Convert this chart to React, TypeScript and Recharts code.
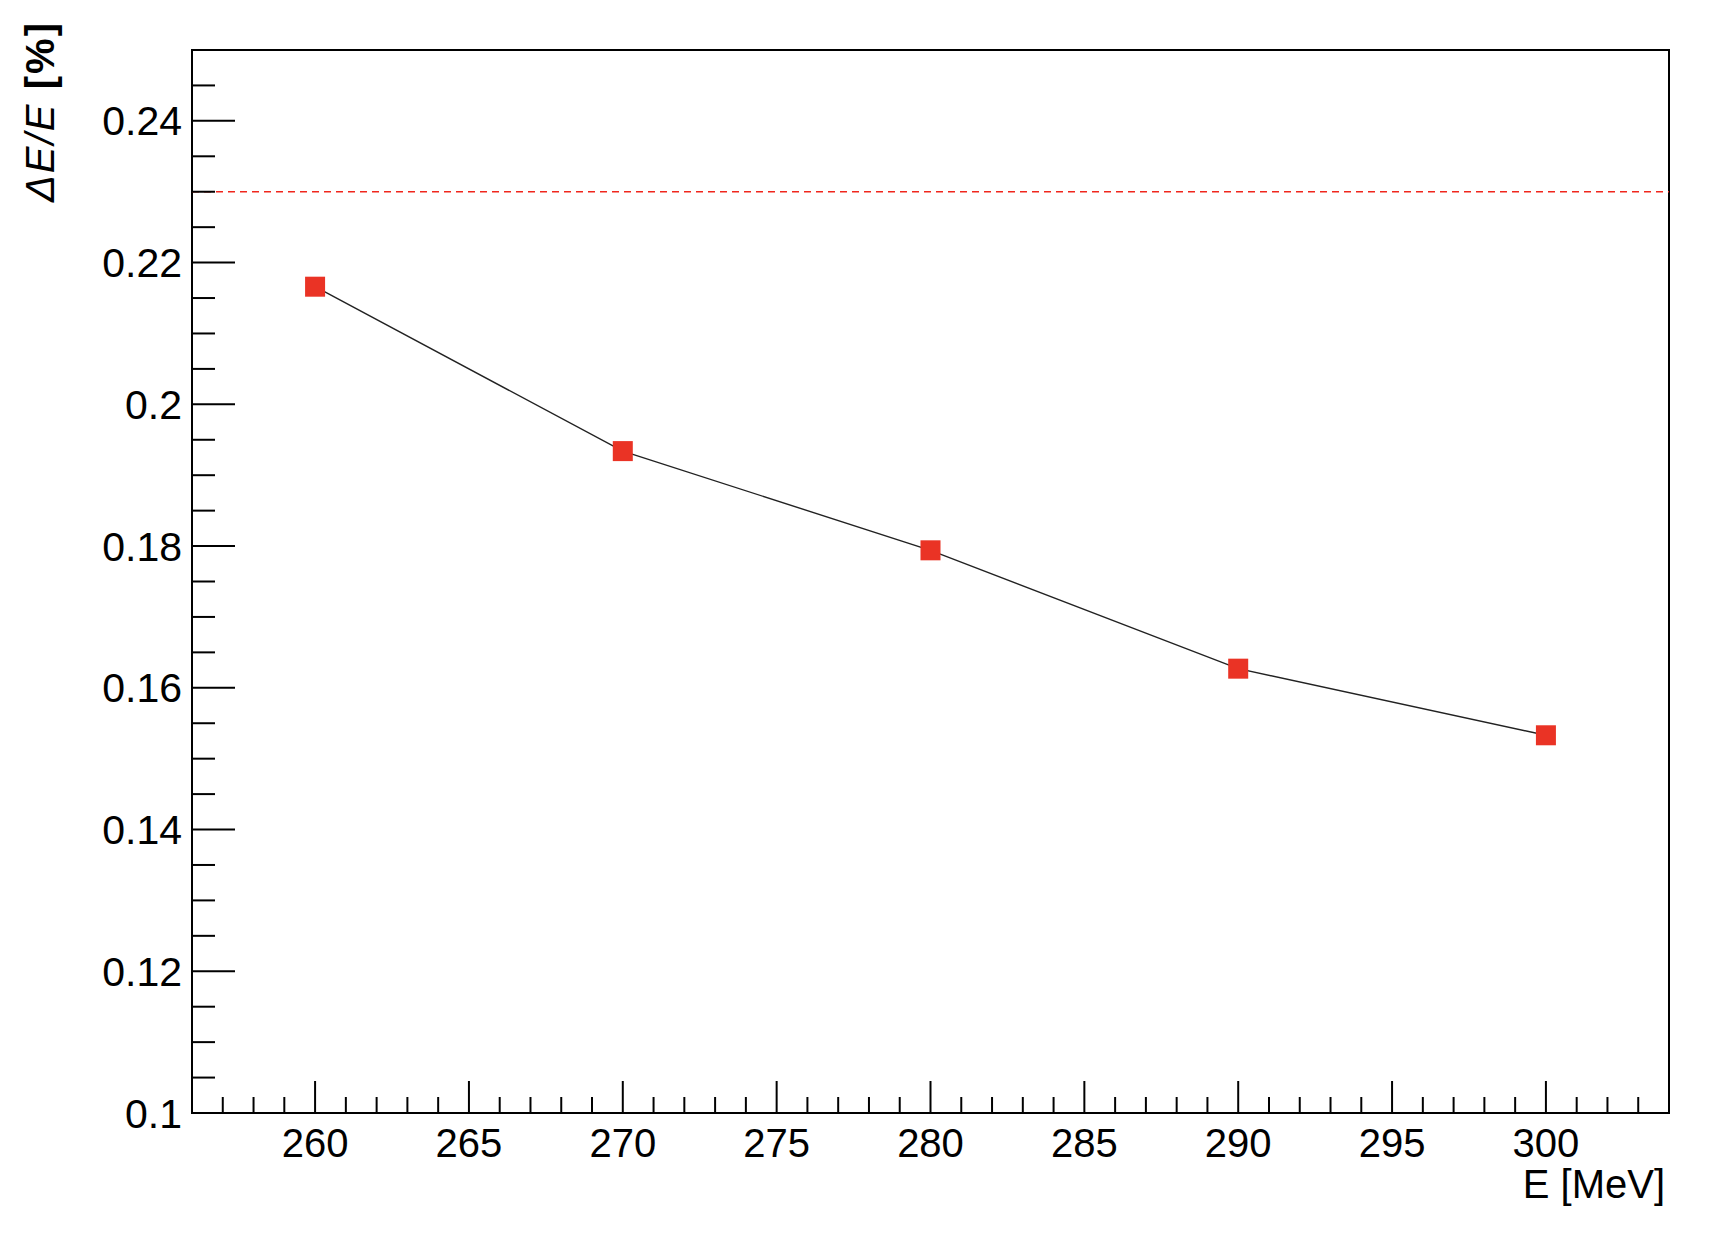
import React from 'react';
import { LineChart, Line, XAxis, YAxis, ReferenceLine, ReferenceArea, Customized } from 'recharts';

const energies = [260, 270, 280, 290, 300];
const resolution = [0.2166, 0.1934, 0.1794, 0.1627, 0.1533];

const xMajorTicks = [260, 265, 270, 275, 280, 285, 290, 295, 300];
const yMajorTicks = [0.1, 0.12, 0.14, 0.16, 0.18, 0.2, 0.22, 0.24];
const yMinorSteps = 30; // 0.005 steps between 0.1 and 0.25

const xTicks: number[] = [];
for (let v = 257; v <= 303; v++) xTicks.push(v);
const yTicks: number[] = [];
for (let i = 0; i < yMinorSteps; i++) yTicks.push(Number((0.1 + i * 0.005).toFixed(3)));

const threshold = 0.23;

const data = energies.map((e, i) => ({ e, res: resolution[i] }));

const FONT = '"Liberation Sans", Arial, Helvetica, sans-serif';
const RED = '#ea3325';

function XTick(props: any) {
  const { x, y, payload } = props;
  const v = payload.value;
  const major = xMajorTicks.includes(v);
  return (
    <g>
      <line x1={x} y1={y} x2={x} y2={y - (major ? 32 : 16)} stroke="#000" strokeWidth={2} />
      {major && (
        <text x={x} y={y + 44} textAnchor="middle" fontSize={40} fontFamily={FONT} fill="#000">
          {v}
        </text>
      )}
    </g>
  );
}

function YTick(props: any) {
  const { x, y, payload } = props;
  const v = payload.value;
  const major = yMajorTicks.some((m) => Math.abs(m - v) < 1e-6);
  return (
    <g>
      <line x1={x} y1={y} x2={x + (major ? 43 : 23)} y2={y} stroke="#000" strokeWidth={2} />
      {major && (
        <text x={x - 10} y={y + 14.5} textAnchor="end" fontSize={41} fontFamily={FONT} fill="#000">
          {String(v)}
        </text>
      )}
    </g>
  );
}

function SquareDot(props: any) {
  const { cx, cy, index } = props;
  return <rect key={`sq-${index}`} x={cx - 10} y={cy - 10} width={20} height={20} fill={RED} />;
}

function Titles() {
  return (
    <g fontFamily={FONT} fill="#000">
      <text x={1665} y={1198} textAnchor="end" fontSize={40}>
        E [MeV]
      </text>
      <text
        transform="translate(54, 202) rotate(-90)"
        x={0}
        y={0}
        textAnchor="start"
        fontSize={40}
        textLength={179}
        lengthAdjust="spacing"
      >
        <tspan fontStyle="italic">ΔE/E</tspan>
        <tspan fontWeight="bold"> [%]</tspan>
      </text>
    </g>
  );
}

export default function App() {
  return (
    <div style={{ position: 'absolute', left: 0, top: 0, background: '#fff' }}>
      <LineChart
        width={1716}
        height={1236}
        data={data}
        margin={{ top: 50, right: 47, left: 72, bottom: 43 }}
      >
        <XAxis
          dataKey="e"
          type="number"
          domain={[256, 304]}
          ticks={xTicks}
          interval={0}
          tick={<XTick />}
          tickLine={false}
          tickSize={0}
          tickMargin={0}
          axisLine={false}
          height={80}
          allowDataOverflow
        />
        <YAxis
          type="number"
          domain={[0.1, 0.25]}
          ticks={yTicks}
          interval={0}
          tick={<YTick />}
          tickLine={false}
          tickSize={0}
          tickMargin={0}
          axisLine={false}
          width={120}
          allowDataOverflow
        />
        <ReferenceArea
          x1={256}
          x2={304}
          y1={0.1}
          y2={0.25}
          fill="none"
          stroke="#000"
          strokeWidth={2}
          ifOverflow="visible"
        />
        <ReferenceLine y={threshold} stroke="#f0261c" strokeWidth={1.6} strokeDasharray="7 5" />
        <Line
          dataKey="res"
          type="linear"
          stroke="#222"
          strokeWidth={1.4}
          dot={SquareDot}
          activeDot={false}
          isAnimationActive={false}
        />
        <Customized component={Titles} />
      </LineChart>
    </div>
  );
}
